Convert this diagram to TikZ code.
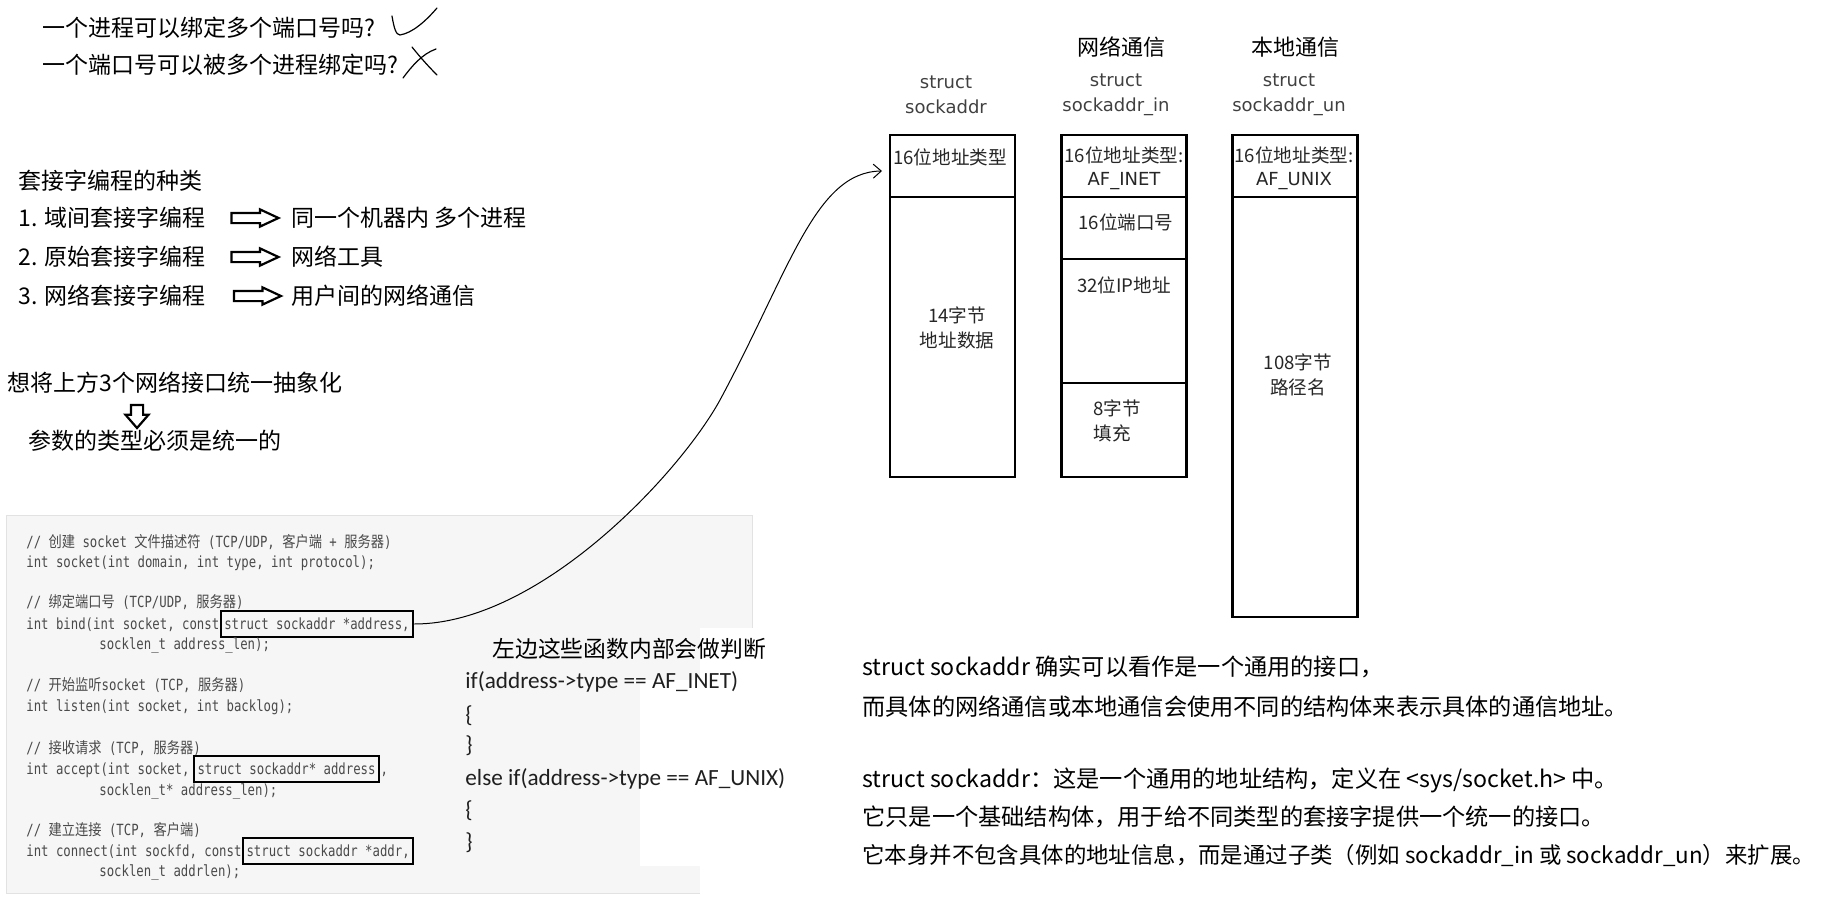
\documentclass[tikz,border=0pt]{standalone}
\usepackage{fontspec}
\setmainfont{Noto Sans CJK SC}
\newfontfamily\codefont{DejaVu Sans Mono}[FakeStretch=0.8]
\newfontfamily\codezh{Noto Sans CJK SC}[FakeStretch=0.86]
\newfontfamily\calfont{Carlito}
\newfontfamily\dvsans{DejaVu Sans}
\usetikzlibrary{shapes.arrows, arrows.meta, positioning}
\definecolor{codegray}{HTML}{4A4A4A}
\definecolor{codebg}{HTML}{F6F6F6}
\definecolor{codeedge}{HTML}{E2E2E2}
\newcommand{\zh}[1]{{\codezh #1}}

\begin{document}
\begin{tikzpicture}[
        x=0.5pt, y=-0.5pt,
        plain/.style={anchor=west, inner sep=0pt, font=\fontsize{11.5}{14}\selectfont},
        body/.style={plain, font=\fontsize{11.6}{14}\selectfont},
        iftxt/.style={plain, font=\calfont\fontsize{11.6}{14}\selectfont, text=black!88},
        code/.style={anchor=west, inner sep=0pt, font=\codefont\fontsize{7.7}{9}\selectfont, text=codegray, text height=0.75em, text depth=0.25em},
        codebox/.style={code, draw=black, line width=1pt, inner xsep=1.8pt, inner ysep=1.6pt},
        hollow/.style={single arrow, draw, line width=1.1pt, fill=white, inner xsep=0pt, inner ysep=2pt, text height=0pt, text depth=0pt, minimum width=7.5pt, minimum height=23.5pt, single arrow head extend=1.75pt, single arrow tip angle=50},
        cell/.style={draw, line width=1.25pt, outer sep=0pt, inner sep=0pt, minimum width=62.5pt},
        celltxt/.style={inner sep=0pt, font=\fontsize{9.3}{12.5}\selectfont, text=black!85},
        lbl/.style={inner sep=0pt, align=center, font=\dvsans\fontsize{9}{12.5}\selectfont, text=black!75},
        conn/.style={line width=0.5pt, -{Straight Barb[length=4pt, width=7pt]}}
    ]
    \useasboundingbox (0,0) rectangle (1832,904);

    % questions with hand marks
    \node[plain] (q1) at (42,28) {一个进程可以绑定多个端口号吗?};
    \node[plain] (q2) at (42,65) {一个端口号可以被多个进程绑定吗?};
    \draw[line width=0.6pt, line cap=round] (392,16) .. controls (394,28) and (396,35) .. (400,35) .. controls (412,33) and (425,22) .. (437,8);
    \draw[line width=0.6pt, line cap=round] (412,47) .. controls (420,57) and (428,66) .. (437,75);
    \draw[line width=0.6pt, line cap=round] (403,78) .. controls (412,66) and (422,54) .. (436,49);

    % kinds of socket programming
    \node[plain] (kinds) at (18,181) {套接字编程的种类};
    \node[plain] (k1) at (18,218) {1. 域间套接字编程};
    \node[plain] (k2) at (18,257) {2. 原始套接字编程};
    \node[plain] (k3) at (18,296) {3. 网络套接字编程};
    \node[hollow] (a1) at (249.5,218) {};
    \node[hollow] (a2) at (249.5,257) {};
    \node[hollow] (a3) at (252,296) {};
    \node[plain] (r1) at (291,218) {同一个机器内 多个进程};
    \node[plain] (r2) at (291,257) {网络工具};
    \node[plain] (r3) at (291,296) {用户间的网络通信};

    \node[plain] (goal) at (7,383) {想将上方3个网络接口统一抽象化};
    \node[hollow, rotate=-90, inner ysep=2.5pt, minimum width=10.5pt, minimum height=11.5pt, single arrow head extend=2.75pt, single arrow tip angle=82] (down) at (137,413) {};
    \node[plain] (same) at (28,441) {参数的类型必须是统一的};

    % code panel
    \filldraw[fill=codebg, draw=codeedge, line width=0.4pt] (6,515) rectangle (752,893);
    \fill[white] (700,628) rectangle (760,680);
    \fill[white] (640,680) rectangle (760,866);
    \fill[white] (700,866) rectangle (760,895);

    \node[code] (c1) at (26,542) {// \zh{创建} socket \zh{文件描述符} (TCP/UDP, \zh{客户端} + \zh{服务器})};
    \node[code] (c2) at (26,562) {int socket(int domain, int type, int protocol);};
    \node[code] (c3) at (26,602) {// \zh{绑定端口号} (TCP/UDP, \zh{服务器})};
    \node[code] (bindpre) at (26,624) {int bind(int socket, const};
    \node[codebox] (bindbox) at (bindpre.east) {struct sockaddr *address,};
    \node[code] (c5) at (99,644) {socklen\_t address\_len);};
    \node[code] (c6) at (26,685) {// \zh{开始监听}socket (TCP, \zh{服务器})};
    \node[code] (c7) at (26,706) {int listen(int socket, int backlog);};
    \node[code] (c8) at (26,748) {// \zh{接收请求} (TCP, \zh{服务器})};
    \node[code] (acceptpre) at (26,769) {int accept(int socket,};
    \node[codebox] (acceptbox) at ([xshift=1.5pt]acceptpre.east) {struct sockaddr* address};
    \node[code] (acceptcomma) at (acceptbox.east) {,};
    \node[code] (c10) at (99,790) {socklen\_t* address\_len);};
    \node[code] (c11) at (26,830) {// \zh{建立连接} (TCP, \zh{客户端})};
    \node[code] (connectpre) at (26,851) {int connect(int sockfd, const};
    \node[codebox] (connectbox) at (connectpre.east) {struct sockaddr *addr,};
    \node[code] (c13) at (99,871) {socklen\_t addrlen);};

    % type check inside the functions
    \node[plain, font=\fontsize{11.4}{14}\selectfont] (judge) at (492,649) {左边这些函数内部会做判断};
    \node[iftxt] (if1) at (465,682) {if(address->type == AF\_INET)};
    \node[iftxt] (if2) at (465,716) {\{};
    \node[iftxt] (if3) at (465,746) {\}};
    \node[iftxt] (if4) at (465,779) {else if(address->type == AF\_UNIX)};
    \node[iftxt] (if5) at (465,811) {\{};
    \node[iftxt] (if6) at (465,843) {\}};

    % struct layouts
    \node[plain, anchor=center, font=\fontsize{11}{14}\selectfont] (net) at (1121,47) {网络通信};
    \node[plain, anchor=center, font=\fontsize{11}{14}\selectfont] (loc) at (1295,47) {本地通信};
    \node[lbl] (sa-name) at (946,94.5) {struct\\sockaddr};
    \node[lbl] (in-name) at (1116,94.5) {struct\\sockaddr\_in};
    \node[lbl] (un-name) at (1289,94.5) {struct\\sockaddr\_un};

    \node[cell, minimum height=31pt, anchor=north] (sa-hdr) at (952.5,135) {};
    \node[cell, minimum height=140pt, below=0pt of sa-hdr] (sa-data) {};
    \node[cell, minimum height=31pt, anchor=north] (in-hdr) at (1124,135) {};
    \node[cell, minimum height=31pt, below=0pt of in-hdr] (in-port) {};
    \node[cell, minimum height=62pt, below=0pt of in-port] (in-ip) {};
    \node[cell, minimum height=47pt, below=0pt of in-ip] (in-pad) {};
    \node[cell, minimum height=31pt, anchor=north] (un-hdr) at (1295,135) {};
    \node[cell, minimum height=210pt, below=0pt of un-hdr] (un-path) {};

    \node[celltxt] (sa-t1) at (950,157) {16位地址类型};
    \node[celltxt, align=center, font=\fontsize{9.3}{11.5}\selectfont] (in-t1) at (1124,168.5) {16位地址类型:\\{\dvsans\fontsize{9}{11.5}\selectfont AF\_INET}};
    \node[celltxt, align=center, font=\fontsize{9.3}{11.5}\selectfont] (un-t1) at (1294,168.5) {16位地址类型:\\{\dvsans\fontsize{9}{11.5}\selectfont AF\_UNIX}};
    \node[celltxt, align=center] (sa-t2) at (957,327.5) {14字节\\地址数据};
    \node[celltxt] (in-t2) at (1126,222) {16位端口号};
    \node[celltxt] (in-t3) at (1124,285) {32位IP地址};
    \node[celltxt, align=left, anchor=west] (in-t4) at (1093,420.5) {8字节\\填充};
    \node[celltxt, align=center] (un-t2) at (1298,375) {108字节\\路径名};

    \draw[conn] (bindbox.east) .. controls (540,624) and (680,473) .. (720,400) .. controls (790,270) and (815,172) .. ([xshift=-4pt, yshift=-2.5pt]sa-hdr.west);

    % explanation
    \node[body] (e1) at (862,667) {struct sockaddr 确实可以看作是一个通用的接口，};
    \node[body] (e2) at (862,707) {而具体的网络通信或本地通信会使用不同的结构体来表示具体的通信地址。};
    \node[body] (e3) at (862,780) {struct sockaddr：这是一个通用的地址结构，定义在 <sys/socket.h> 中。};
    \node[body] (e4) at (862,817) {它只是一个基础结构体，用于给不同类型的套接字提供一个统一的接口。};
    \node[body, font=\fontsize{11.2}{14}\selectfont] (e5) at (862,855) {它本身并不包含具体的地址信息，而是通过子类（例如 sockaddr\_in 或 sockaddr\_un）来扩展。};
\end{tikzpicture}
\end{document}
